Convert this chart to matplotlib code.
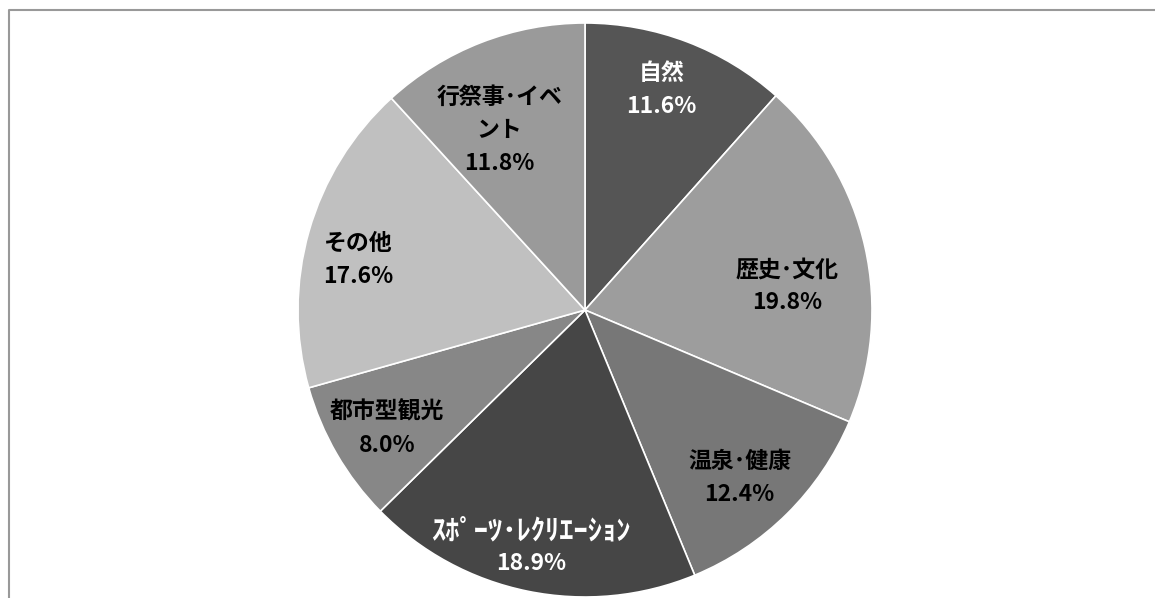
import matplotlib.pyplot as plt
import numpy as np

plt.rcParams['font.family'] = ['Noto Sans CJK JP', 'DejaVu Sans']

labels = ['自然', '歴史･文化', '温泉･健康', 'ｽﾎﾟｰﾂ･ﾚｸﾘｴｰｼｮﾝ', '都市型観光', 'その他', '行祭事･イベ\nント']
values = [11.6, 19.8, 12.4, 18.9, 8.0, 17.6, 11.8]
colors = ['#555555', '#9d9d9d', '#777777', '#464646', '#878787', '#c0c0c0', '#9a9a9a']
text_colors = ['white', 'black', 'black', 'white', 'black', 'black', 'black']
# label placement: radius fraction and angle shift from the wedge bisector
label_r = [0.82, 0.71, 0.79, 0.84, 0.80, 0.81, 0.70]
label_da = [1.9, -5.3, -1.8, -1.4, 0.3, 2.9, 4.0]
name_size = [16.5, 16.5, 16.5, 20.5, 16.5, 16.5, 16.5]

fig = plt.figure(figsize=(11.55, 5.98), dpi=100)
ax = fig.add_axes([0, 0, 1, 1])

cx, cy, R = 585, 598 - 310, 287
wedges, _ = ax.pie(values, colors=colors, startangle=90, counterclock=False,
                   center=(cx, cy), radius=R,
                   wedgeprops=dict(edgecolor='white', linewidth=1.2))
ax.set_xlim(0, 1155)
ax.set_ylim(0, 598)
ax.set_aspect('equal')
ax.axis('off')

pitch = 33
for w, lab, v, tc, lr, da, ns in zip(wedges, labels, values, text_colors,
                                     label_r, label_da, name_size):
    a = np.deg2rad((w.theta1 + w.theta2) / 2 + da)
    x = cx + lr * R * np.cos(a)
    y = cy + lr * R * np.sin(a)
    lines = lab.split('\n') + [f'{v:.1f}%']
    n = len(lines)
    for i, s in enumerate(lines):
        fs = 16.5 if i == n - 1 else ns
        ax.text(x, y + pitch * ((n - 1) / 2 - i), s, ha='center',
                va='center_baseline', color=tc, fontsize=fs, fontweight='bold')

# chart frame (cut off at right and bottom)
ax.plot([9, 9, 1160], [-5, 588, 588], color='#999999', lw=1.5, clip_on=False)

fig.savefig('out.png', dpi=100)
